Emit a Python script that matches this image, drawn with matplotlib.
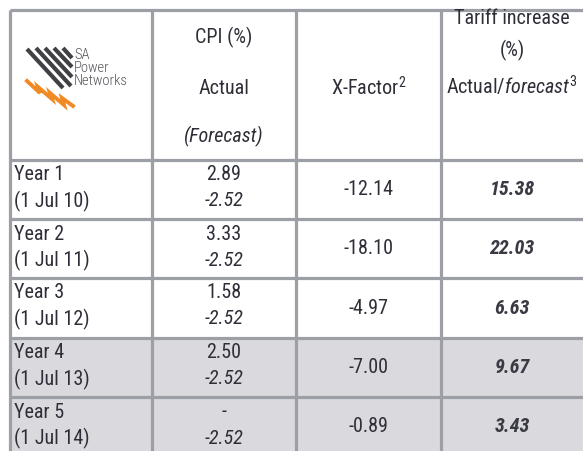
import matplotlib.pyplot as plt
from matplotlib.patches import Rectangle
from matplotlib import font_manager

# pick a narrow face if one is available
names = {f.name for f in font_manager.fontManager.ttflist}
face = 'Roboto'
for cand in ['Liberation Sans Narrow', 'DejaVu Sans Condensed', 'Roboto Condensed']:
    if cand in names:
        face = cand
        break

plt.rcParams['font.family'] = [face, 'DejaVu Sans']
plt.rcParams['mathtext.fontset'] = 'custom'
plt.rcParams['mathtext.rm'] = face
plt.rcParams['mathtext.it'] = face + ':italic'

#%% table data
years = ['Year 1', 'Year 2', 'Year 3', 'Year 4', 'Year 5']
dates = ['(1 Jul 10)', '(1 Jul 11)', '(1 Jul 12)', '(1 Jul 13)', '(1 Jul 14)']
cpi_actual = ['2.89', '3.33', '1.58', '2.50', '-']
cpi_forecast = ['-2.52', '-2.52', '-2.52', '-2.52', '-2.52']
x_factor = ['-12.14', '-18.10', '-4.97', '-7.00', '-0.89']
tariff = ['15.38', '22.03', '6.63', '9.67', '3.43']
shaded = [False, False, False, True, True]

# layout (pixels)
col_edges = [10, 152, 296, 441, 583]
row_edges = [10, 160, 219, 278, 338, 397, 456]
line_col = '#9c9fa6'
shade_col = '#dadade'
txt = '#2e2e38'
fs = 14.5

fig = plt.figure(figsize=(5.83, 4.51), dpi=100)
ax = fig.add_axes([0, 0, 1, 1])
ax.set_xlim(0, 583)
ax.set_ylim(451, 0)
ax.axis('off')

# shaded rows
for i, s in enumerate(shaded):
    if s:
        y0 = row_edges[i + 1]
        ax.add_patch(Rectangle((col_edges[0], y0), col_edges[-1] - col_edges[0],
                               row_edges[i + 2] - y0, color=shade_col, lw=0, zorder=0))

# grid lines
ax.hlines(row_edges[:-1], col_edges[0], col_edges[-1], color=line_col, lw=2.3, zorder=2)
ax.vlines(col_edges[:-1], row_edges[0], 451, color=line_col, lw=2.3, zorder=2)

#%% logo
stripes = [((27, 49), (63, 88)), ((36, 48), (71, 86)), ((45, 48), (72, 77)),
           ((54, 48), (72, 67)), ((63, 48), (72, 58))]
for (x0, y0), (x1, y1) in stripes:
    ax.plot([x0, x1], [y0, y1], color='#404045', lw=3, solid_capstyle='butt')
ax.plot([27, 40, 38, 52, 50, 64, 62, 73], [81, 93, 87, 99, 93, 105, 98, 106],
        color='#f08a24', lw=2.8, solid_joinstyle='miter')
for k, w in enumerate(['SA', 'Power', 'Networks']):
    ax.text(74, 55 + 13 * k, w, fontsize=10.5, color='#55555c', va='center', ha='left',
            weight='light')

#%% header
c1 = (col_edges[1] + col_edges[2]) / 2
c2 = (col_edges[2] + col_edges[3]) / 2
c3 = (col_edges[3] + col_edges[4]) / 2
ax.text(c1, 37, 'CPI (%)', fontsize=fs, color=txt, ha='center', va='center')
ax.text(c1, 88, 'Actual', fontsize=fs, color=txt, ha='center', va='center')
ax.text(c1, 136, '(Forecast)', fontsize=fs, color=txt, ha='center', va='center', style='italic')
ax.text(c2, 88, 'X-Factor$^{2}$', fontsize=fs, color=txt, ha='center', va='center')
ax.text(c3, 18, 'Tariff increase', fontsize=fs, color=txt, ha='center', va='center')
ax.text(c3, 50, '(%)', fontsize=fs, color=txt, ha='center', va='center')
ax.text(c3, 86, r'Actual/$\mathit{forecast}^{\mathit{3}}$', fontsize=fs, color=txt,
        ha='center', va='center')

#%% body
for i in range(len(years)):
    top = row_edges[i + 1]
    mid = (top + row_edges[i + 2]) / 2
    ax.text(14, top + 15, years[i], fontsize=fs, color=txt, va='center', ha='left')
    ax.text(14, top + 41, dates[i], fontsize=fs, color=txt, va='center', ha='left')
    ax.text(c1, top + 15, cpi_actual[i], fontsize=fs, color=txt, va='center', ha='center')
    ax.text(c1, top + 41, cpi_forecast[i], fontsize=fs, color=txt, va='center', ha='center',
            style='italic')
    ax.text(c2, mid, x_factor[i], fontsize=fs, color=txt, va='center', ha='center')
    ax.text(c3, mid, tariff[i], fontsize=fs, color='#3a3a44', va='center', ha='center',
            style='italic', weight='bold')

fig.savefig('out.png', dpi=100)
